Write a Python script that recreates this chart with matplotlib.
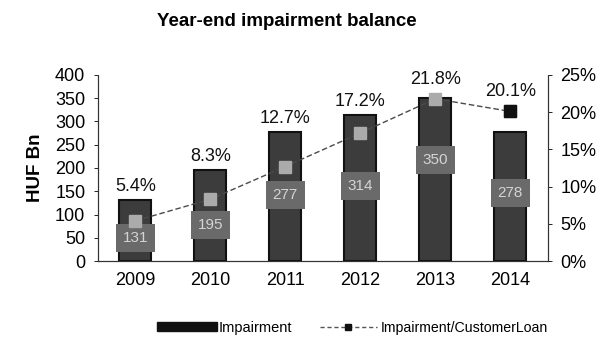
import numpy as np
import matplotlib.pyplot as plt
from matplotlib.patches import Patch
from matplotlib.lines import Line2D

plt.rcParams['font.family'] = ['Liberation Sans', 'DejaVu Sans']

# Year-end impairment balance (HUF bn) and impairment / customer loan ratio (%)
years = ['2009', '2010', '2011', '2012', '2013', '2014']
impairment = [131, 195, 277, 314, 350, 278]
ratio = [5.4, 8.3, 12.7, 17.2, 21.8, 20.1]

# heights (HUF bn) where the value boxes sit inside each bar
box_y = [49, 77, 142, 161, 217, 146]

fig = plt.figure(figsize=(6.04, 3.37), dpi=100)
ax = fig.add_axes([0.162, 0.2255, 0.745, 0.552])
ax2 = ax.twinx()

x = np.arange(len(years))
ax.bar(x, impairment, width=0.43, color='#3c3c3c', edgecolor='#111111',
       linewidth=1.5, zorder=2)
for i, v in enumerate(impairment):
    ax.text(i, box_y[i], str(v), ha='center', va='center', fontsize=11,
            color='#d4d4d4', zorder=4,
            bbox=dict(boxstyle='square,pad=0.45', fc='#6a6a6a', ec='none'))

ax.set_xlim(-0.5, len(years) - 0.5)
ax.set_ylim(0, 400)
ax.set_yticks(np.arange(0, 401, 50))
ax.set_xticks(x)
ax.set_xticklabels(years)
ax.set_ylabel('HUF Bn', fontsize=13.5, fontweight='bold', labelpad=8)

ax2.set_ylim(0, 25)
ax2.set_yticks(np.arange(0, 26, 5))
ax2.set_yticklabels([f'{t}%' for t in range(0, 26, 5)])
ax2.plot(x, ratio, color='#4a4a4a', linestyle=(0, (4, 2)), linewidth=1,
         marker='s', markersize=9, markerfacecolor='#ababab',
         markeredgecolor='#ababab', zorder=3)
ax2.plot(x[-1], ratio[-1], marker='s', markersize=9, color='#111111', zorder=5)

# ratio labels above whichever is higher: bar top or marker
for i, r in enumerate(ratio):
    top = max(impairment[i], r * 16 + 12)
    ax2.annotate(f'{r}%', (i, top / 16), xytext=(0, 10), textcoords='offset points',
                 ha='center', va='center', fontsize=13, color='#111111')

for a in (ax, ax2):
    a.spines['top'].set_visible(False)
    a.spines['left'].set_linestyle((0, (1, 1)))
    a.spines['right'].set_linestyle((0, (1, 1)))
    a.spines['bottom'].set_linestyle((0, (3, 1)))
    for s in a.spines.values():
        s.set_linewidth(0.8)
        s.set_color('#333333')
    a.tick_params(axis='y', labelsize=13, length=3, width=0.6, pad=6)
ax.tick_params(axis='x', labelsize=13, length=0, pad=8)

fig.text(0.475, 0.935, 'Year-end impairment balance', ha='center', va='center',
         fontsize=13.5, fontweight='bold')

bar_handle = Patch(facecolor='#111111', edgecolor='#111111')
line_handle = Line2D([0], [0], color='#555555', linestyle=(0, (3, 2)), linewidth=1,
                     marker='s', markersize=5, markerfacecolor='#111111',
                     markeredgecolor='#111111')
fig.legend([bar_handle], ['Impairment'], loc='center left',
           bbox_to_anchor=(0.26, 0.027), frameon=False, fontsize=10.5,
           handlelength=4.1, handleheight=0.6, handletextpad=0.1,
           borderaxespad=0, borderpad=0)
fig.legend([line_handle], ['Impairment/CustomerLoan'], loc='center left',
           bbox_to_anchor=(0.53, 0.027), frameon=False, fontsize=10.2,
           handlelength=4.0, handletextpad=0.3, borderaxespad=0, borderpad=0)

fig.savefig('out.png', dpi=100)
